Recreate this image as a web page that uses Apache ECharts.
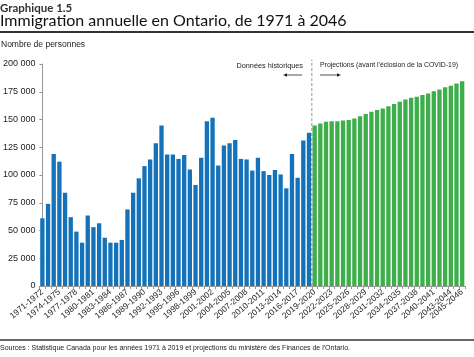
<!DOCTYPE html>
<html><head><meta charset="utf-8">
<script src="https://cdn.jsdelivr.net/npm/echarts@6/dist/echarts.min.js"></script>
<style>html,body{margin:0;padding:0;background:#fff;}#c{width:474px;height:357px;}</style>
</head><body><div id="c"></div>
<script>
const categories = ["1971-1972","1972-1973","1973-1974","1974-1975","1975-1976","1976-1977","1977-1978","1978-1979","1979-1980","1980-1981","1981-1982","1982-1983","1983-1984","1984-1985","1985-1986","1986-1987","1987-1988","1988-1989","1989-1990","1990-1991","1991-1992","1992-1993","1993-1994","1994-1995","1995-1996","1996-1997","1997-1998","1998-1999","1999-2000","2000-2001","2001-2002","2002-2003","2003-2004","2004-2005","2005-2006","2006-2007","2007-2008","2008-2009","2009-2010","2010-2011","2011-2012","2012-2013","2013-2014","2014-2015","2015-2016","2016-2017","2017-2018","2018-2019","2019-2020","2020-2021","2021-2022","2022-2023","2023-2024","2024-2025","2025-2026","2026-2027","2027-2028","2028-2029","2029-2030","2030-2031","2031-2032","2032-2033","2033-2034","2034-2035","2035-2036","2036-2037","2037-2038","2038-2039","2039-2040","2040-2041","2041-2042","2042-2043","2043-2044","2044-2045","2045-2046"];
const historique = [61000,74000,119000,112000,84000,62000,49000,39000,63500,53000,56500,43500,39000,39000,41500,69000,84000,97000,108000,114000,128500,144500,118500,118500,114500,118000,105000,91000,115500,148500,151500,108500,126500,128500,131500,114500,114000,104000,115500,103500,100000,104500,100500,88000,119000,97500,131000,138000];
const projections = [144500,146500,148000,148500,148500,149000,149500,151000,153000,155000,157000,158500,160000,162000,164000,166000,168000,169500,170500,172000,173500,175500,177000,179000,180500,182500,184500];
const yTicks = [0,25000,50000,75000,100000,125000,150000,175000,200000];
const separation = 47.5; // boundary between historical and projected bars (category index)

const nH = historique.length;
const histData = categories.map((c,i)=> i < nH ? historique[i] : '-');
const projData = categories.map((c,i)=> i >= nH ? projections[i-nH] : '-');
const lastIdx = categories.length - 1;

const chart = echarts.init(document.getElementById('c'), null, {renderer:'canvas'});
const txt = '#222';
function arrow(x1, x2, y){
  const dir = x2 > x1 ? 1 : -1;
  return {type:'group', children:[
    {type:'line', shape:{x1:x1, y1:y, x2:x2 - dir*3, y2:y}, style:{stroke:'#222', lineWidth:0.8}},
    {type:'polygon', shape:{points:[[x2,y],[x2-dir*4,y-1.8],[x2-dir*4,y+1.8]]}, style:{fill:'#222'}}
  ]};
}
chart.setOption({
  animation:false,
  backgroundColor:'#fff',
  title:[
    {text:'Graphique 1.5', left:0, top:2, padding:0, textStyle:{fontFamily:'Lato', fontSize:11.5, fontWeight:'bold', color:'#333'}},
    {text:'Immigration annuelle en Ontario, de 1971 à 2046', left:0, top:13, padding:0, textStyle:{fontFamily:'Lato', fontSize:16, fontWeight:'normal', color:'#111'}},
    {text:'Nombre de personnes', left:1, top:40, padding:0, textStyle:{fontFamily:'Liberation Sans', fontSize:8.5, fontWeight:'normal', color:txt}},
    {text:"Sources : Statistique Canada pour les années 1971 à 2019 et projections du ministère des Finances de l'Ontario.", left:0, top:345, padding:0, textStyle:{fontFamily:'Liberation Sans', fontSize:7, fontWeight:'normal', color:txt}}
  ],
  graphic:[
    {type:'line', shape:{x1:0,y1:32,x2:474,y2:32}, style:{stroke:'#333', lineWidth:2}},
    {type:'line', shape:{x1:0,y1:340,x2:474,y2:340}, style:{stroke:'#333', lineWidth:1.5}},
    {type:'text', right:474-303, top:62, style:{text:'Données historiques', font:'7.3px "Liberation Sans"', fill:txt}},
    {type:'text', left:320, top:62, style:{text:"Projections (avant l'éclosion de la COVID-19)", font:'6.9px "Liberation Sans"', fill:txt}},
    arrow(302, 283, 75),
    arrow(320, 341, 75)
  ],
  grid:{left:35, right:9, top:64, bottom:71},
  xAxis:[{
    type:'category', data:categories,
    axisLine:{lineStyle:{color:'#999', width:1}},
    axisTick:{show:true, interval:0, length:3, lineStyle:{color:'#999'}},
    axisLabel:{interval:0, hideOverlap:false, rotate:40, fontSize:8.5, fontFamily:'Liberation Sans', color:txt, margin:5,
      formatter:(v,i)=> (i%3===0 || i===lastIdx) ? v : ''}
  },{
    type:'value', min:-0.5, max:lastIdx+0.5, show:false
  }],
  yAxis:{
    type:'value', min:0, max:200000, interval:25000,
    axisLine:{show:true, lineStyle:{color:'#999'}},
    axisTick:{show:true, length:3, lineStyle:{color:'#999'}},
    splitLine:{show:false},
    axisLabel:{fontSize:9, fontFamily:'Liberation Sans', color:txt, margin:4,
      formatter:(v)=> yTicks.includes(v) ? String(v).replace(/\B(?=(\d{3})+(?!\d))/g,' ') : ''}
  },
  series:[
    {type:'bar', name:'Données historiques', data:histData, stack:'a', barCategoryGap:'24%', itemStyle:{color:'#1372b9'}},
    {type:'bar', name:'Projections', data:projData, stack:'a', barCategoryGap:'24%', itemStyle:{color:'#3eae4b'}},
    {type:'line', xAxisIndex:1, data:[[separation,0],[separation,204000]], showSymbol:false, symbol:'none', silent:true, clip:false, z:5,
      lineStyle:{type:[3,2], color:'#777', width:0.8}}
  ]
});
</script>
</body></html>
